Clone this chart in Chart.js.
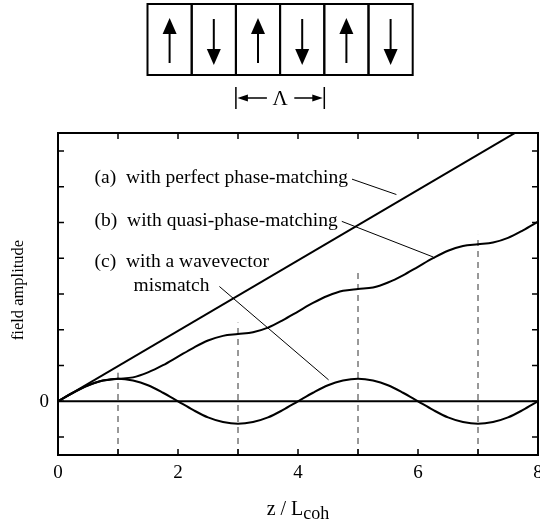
<!DOCTYPE html>
<html>
<head>
<meta charset="utf-8">
<script src="https://cdn.jsdelivr.net/npm/chart.js@4.4.1/dist/chart.umd.min.js"></script>
<style>
  html, body { margin: 0; padding: 0; background: #fff; }
  canvas { display: block; }
</style>
</head>
<body>
<canvas id="chart" width="540" height="520"></canvas>
<script>
// Propagation distance in units of the coherence length
const zSamples = [0, 0.25, 0.5, 0.75, 1, 1.25, 1.5, 1.75, 2, 2.25, 2.5, 2.75, 3, 3.25, 3.5, 3.75, 4,
                  4.25, 4.5, 4.75, 5, 5.25, 5.5, 5.75, 6, 6.25, 6.5, 6.75, 7, 7.25, 7.5, 7.75, 8];
// (b) quasi-phase-matched growth: steps up, flattening at every domain wall
const quasiAmp = [0, 0.24, 0.44, 0.58, 0.63, 0.67, 0.81, 1.01, 1.25, 1.49, 1.70, 1.83, 1.88,
                  1.93, 2.06, 2.27, 2.51, 2.75, 2.95, 3.09, 3.14, 3.18, 3.32, 3.52, 3.76,
                  4.00, 4.21, 4.34, 4.39, 4.44, 4.57, 4.78, 5.02];
// (c) uncompensated wavevector mismatch: oscillates about zero
const mismatchAmp = [0, 0.24, 0.45, 0.58, 0.63, 0.58, 0.45, 0.24, 0, -0.24, -0.45, -0.58, -0.63,
                     -0.58, -0.45, -0.24, 0, 0.24, 0.45, 0.58, 0.63, 0.58, 0.45, 0.24, 0,
                     -0.24, -0.45, -0.58, -0.63, -0.58, -0.45, -0.24, 0];
// (a) perfect phase matching: linear growth
const perfectZ = [0, 8];
const perfectAmp = [0, 7.88];
// Domain-wall positions and the height reached by their dashed markers
const domainWalls = [1, 3, 5, 7];
const wallTops = [0.8, 2.2, 3.65, 4.65];
// Axis ticks
const xTickValues = [0, 1, 2, 3, 4, 5, 6, 7, 8];
const xTickLabels = ['0', '', '2', '', '4', '', '6', '', '8'];
const yTickValues = [-1, 0, 1, 2, 3, 4, 5, 6, 7];
const yTickLabels = ['', '0', '', '', '', '', '', '', ''];
const yMin = -1.5, yMax = 7.5;

const SERIF = '"Liberation Serif", "Times New Roman", serif';

// Callout texts and their leader lines (data coordinates)
const callouts = [
  { lines: ['(a)  with perfect phase-matching'], x: 0.61, y: 6.24, leader: [[4.90, 6.21], [5.64, 5.78]] },
  { lines: ['(b)  with quasi-phase-matching'], x: 0.61, y: 5.05, leader: [[4.73, 5.03], [6.26, 4.03]] },
  { lines: ['(c)  with a wavevector', 'mismatch'], x: 0.61, y: 3.91, x2: 1.26, y2: 3.23, leader: [[2.69, 3.21], [4.51, 0.60]] }
];

const pts = (xs, ys) => xs.map((x, i) => ({ x, y: ys[i] }));

const solid = (data, extra) => Object.assign({
  data, borderColor: '#000', borderWidth: 2, pointRadius: 0, fill: false,
  cubicInterpolationMode: 'monotone'
}, extra || {});

const datasets = [
  solid(pts(perfectZ, perfectAmp), { cubicInterpolationMode: 'default' }),
  solid(pts(zSamples, quasiAmp)),
  solid(pts(zSamples, mismatchAmp)),
  solid(pts([0, 8], [0, 0]), { cubicInterpolationMode: 'default' })
];
domainWalls.forEach((z, i) => {
  datasets.push({
    data: pts([z, z], [yMin, wallTops[i]]),
    borderColor: '#333', borderWidth: 1, borderDash: [6, 5], pointRadius: 0, fill: false
  });
});
callouts.forEach(c => {
  datasets.push({
    data: c.leader.map(p => ({ x: p[0], y: p[1] })),
    borderColor: '#000', borderWidth: 1, pointRadius: 0, fill: false
  });
});

// Frame, inward ticks, callout text, axis titles and the domain sketch
const decorations = {
  id: 'decorations',
  afterDraw(chart) {
    const { ctx, chartArea: a, scales: { x, y } } = chart;
    ctx.save();
    ctx.strokeStyle = '#000';
    ctx.fillStyle = '#000';

    // plot frame
    ctx.lineWidth = 2;
    ctx.strokeRect(a.left, a.top, a.right - a.left, a.bottom - a.top);

    // inward ticks on all four sides
    const tl = 6;
    ctx.lineWidth = 1.5;
    ctx.beginPath();
    xTickValues.forEach(v => {
      const px = x.getPixelForValue(v);
      ctx.moveTo(px, a.bottom); ctx.lineTo(px, a.bottom - tl);
      ctx.moveTo(px, a.top); ctx.lineTo(px, a.top + tl);
    });
    yTickValues.forEach(v => {
      const py = y.getPixelForValue(v);
      ctx.moveTo(a.left, py); ctx.lineTo(a.left + tl, py);
      ctx.moveTo(a.right, py); ctx.lineTo(a.right - tl, py);
    });
    ctx.stroke();

    // tick labels
    ctx.font = '19px ' + SERIF;
    ctx.textAlign = 'center';
    ctx.textBaseline = 'middle';
    xTickValues.forEach((v, i) => {
      if (xTickLabels[i]) ctx.fillText(xTickLabels[i], x.getPixelForValue(v), a.bottom + 18);
    });
    ctx.textAlign = 'right';
    yTickValues.forEach((v, i) => {
      if (yTickLabels[i]) ctx.fillText(yTickLabels[i], a.left - 9, y.getPixelForValue(v) + 1);
    });

    // callouts
    ctx.font = '19.5px ' + SERIF;
    ctx.textAlign = 'left';
    ctx.textBaseline = 'middle';
    callouts.forEach(c => {
      ctx.fillText(c.lines[0], x.getPixelForValue(c.x), y.getPixelForValue(c.y));
      if (c.lines[1]) ctx.fillText(c.lines[1], x.getPixelForValue(c.x2), y.getPixelForValue(c.y2));
    });

    // y-axis title
    ctx.save();
    ctx.translate(19, 290);
    ctx.rotate(-Math.PI / 2);
    ctx.textAlign = 'center';
    ctx.font = '16.5px ' + SERIF;
    ctx.fillText('field amplitude', 0, 0);
    ctx.restore();

    // x-axis title with subscript
    ctx.textBaseline = 'alphabetic';
    ctx.textAlign = 'left';
    ctx.font = '20px ' + SERIF;
    const main = 'z / L';
    const wMain = ctx.measureText(main).width;
    ctx.font = '18px ' + SERIF;
    const wSub = ctx.measureText('coh').width;
    const cx = (a.left + a.right) / 2;
    const startX = cx - (wMain + wSub) / 2;
    ctx.font = '20px ' + SERIF;
    ctx.fillText(main, startX, 515);
    ctx.font = '18px ' + SERIF;
    ctx.fillText('coh', startX + wMain, 519);

    // periodically poled domains
    const bx0 = 147.5, bw = 44.2, by0 = 4, by1 = 75;
    ctx.lineWidth = 2;
    for (let i = 0; i < 6; i++) {
      ctx.strokeRect(bx0 + i * bw, by0, bw, by1 - by0);
    }
    for (let i = 0; i < 6; i++) {
      const cxA = bx0 + i * bw + bw / 2;
      const up = i % 2 === 0;
      ctx.lineWidth = 2;
      ctx.beginPath();
      if (up) { ctx.moveTo(cxA, 63); ctx.lineTo(cxA, 30); }
      else { ctx.moveTo(cxA, 19); ctx.lineTo(cxA, 52); }
      ctx.stroke();
      ctx.beginPath();
      if (up) { ctx.moveTo(cxA, 18); ctx.lineTo(cxA - 7, 34); ctx.lineTo(cxA + 7, 34); }
      else { ctx.moveTo(cxA, 65); ctx.lineTo(cxA - 7, 49); ctx.lineTo(cxA + 7, 49); }
      ctx.closePath();
      ctx.fill();
    }

    // period marker
    const lx0 = bx0 + 2 * bw, lx1 = bx0 + 4 * bw, ly = 98;
    ctx.lineWidth = 1.5;
    ctx.beginPath();
    ctx.moveTo(lx0, 87); ctx.lineTo(lx0, 109);
    ctx.moveTo(lx1, 87); ctx.lineTo(lx1, 109);
    ctx.moveTo(lx0 + 8, ly); ctx.lineTo(lx0 + 31, ly);
    ctx.moveTo(lx1 - 8, ly); ctx.lineTo(lx1 - 30, ly);
    ctx.stroke();
    ctx.beginPath();
    ctx.moveTo(lx0 + 1.5, ly); ctx.lineTo(lx0 + 12, ly - 3.5); ctx.lineTo(lx0 + 12, ly + 3.5);
    ctx.closePath();
    ctx.moveTo(lx1 - 1.5, ly); ctx.lineTo(lx1 - 12, ly - 3.5); ctx.lineTo(lx1 - 12, ly + 3.5);
    ctx.closePath();
    ctx.fill();
    ctx.font = '21px ' + SERIF;
    ctx.textAlign = 'center';
    ctx.textBaseline = 'middle';
    ctx.fillText('Λ', (lx0 + lx1) / 2, ly + 1);

    ctx.restore();
  }
};

new Chart(document.getElementById('chart'), {
  type: 'line',
  data: { datasets },
  options: {
    responsive: false,
    animation: false,
    layout: { padding: { top: 133, right: 2, left: 0, bottom: 0 } },
    plugins: { legend: { display: false }, tooltip: { enabled: false } },
    scales: {
      x: {
        type: 'linear', min: 0, max: 8,
        afterFit: s => { s.height = 65; },
        grid: { display: false, drawTicks: false },
        border: { display: false },
        ticks: { display: false, stepSize: 1 }
      },
      y: {
        type: 'linear', min: yMin, max: yMax,
        afterFit: s => { s.width = 58; },
        grid: { display: false, drawTicks: false },
        border: { display: false },
        ticks: { display: false, stepSize: 1 }
      }
    }
  },
  plugins: [decorations]
});
</script>
</body>
</html>
